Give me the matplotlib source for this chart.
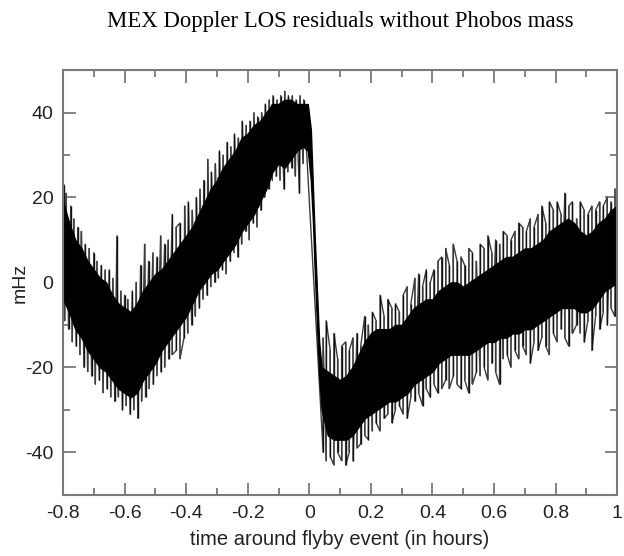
#!/usr/bin/env python
"""
Redraw of the MEX Doppler LOS residuals (no Phobos mass) around the flyby.
"""

import numpy as np
import matplotlib.pyplot as plt
from matplotlib.ticker import MultipleLocator, FormatStrFormatter

plt.rcParams['axes.unicode_minus'] = False

# core of the noisy band (hours, mHz)
band_t = [-0.80, -0.78, -0.76, -0.74, -0.72, -0.70, -0.68, -0.66, -0.64, -0.62,
          -0.60, -0.58, -0.56, -0.54, -0.52, -0.50, -0.48, -0.46, -0.44, -0.42,
          -0.40, -0.38, -0.36, -0.34, -0.32, -0.30, -0.28, -0.26, -0.24, -0.22,
          -0.20, -0.18, -0.16, -0.14, -0.12, -0.10, -0.08, -0.06, -0.04, -0.02,
          -0.005, 0.005, 0.012, 0.018, 0.025, 0.032, 0.04, 0.06, 0.08, 0.10,
          0.12, 0.14, 0.16, 0.18, 0.20, 0.22, 0.24, 0.26, 0.28, 0.30,
          0.32, 0.34, 0.36, 0.38, 0.40, 0.42, 0.44, 0.46, 0.48, 0.50,
          0.52, 0.54, 0.56, 0.58, 0.60, 0.62, 0.64, 0.66, 0.68, 0.70,
          0.72, 0.74, 0.76, 0.78, 0.80, 0.82, 0.84, 0.86, 0.88, 0.90,
          0.92, 0.94, 0.96, 0.98, 1.00]
band_hi = [19, 14, 10, 8, 5, 3, 1, 0, -3, -5,
           -6, -7, -5, -2, 0, 2, 3, 5, 7, 9,
           11, 13, 16, 19, 22, 24, 27, 29, 31, 34,
           35, 37, 38, 40, 42, 42, 43, 43, 42, 42,
           42, 36, 22, 10, -2, -14, -20, -21, -22, -23,
           -22, -20, -17, -14, -12, -11, -11, -11, -10, -10,
           -8, -6, -5, -4, -4, -2, -1, 0, 0, -1,
           0, 1, 2, 3, 4, 5, 6, 6, 7, 8,
           8, 9, 10, 12, 13, 14, 15, 14, 12, 11,
           12, 14, 15, 17, 18]
band_lo = [-4, -7, -11, -13, -16, -18, -20, -21, -23, -25,
           -26, -27, -26, -23, -21, -19, -16, -14, -12, -10,
           -8, -5, -2, 0, 2, 3, 5, 7, 9, 12,
           14, 16, 19, 22, 26, 28, 27, 29, 31, 32,
           31, 24, 14, 2, -10, -22, -30, -36, -37, -37,
           -37, -36, -34, -32, -31, -30, -29, -28, -28, -27,
           -26, -24, -23, -22, -21, -19, -18, -17, -17, -17,
           -17, -16, -15, -14, -14, -13, -13, -12, -12, -11,
           -11, -10, -9, -8, -7, -6, -6, -6, -7, -7,
           -6, -4, -2, -1, 0]

# upward noise spikes (time, peak value)
up_t = [-0.797, -0.79, -0.775, -0.765, -0.752, -0.74, -0.728, -0.715, -0.70, -0.69,
        -0.676, -0.663, -0.65, -0.638, -0.625, -0.612, -0.60, -0.59, -0.575, -0.562,
        -0.548, -0.535, -0.522, -0.508, -0.495, -0.483, -0.47, -0.458, -0.445, -0.432,
        -0.42, -0.405, -0.393, -0.38, -0.367, -0.355, -0.343, -0.33, -0.318, -0.305,
        -0.292, -0.28, -0.267, -0.255, -0.243, -0.23, -0.218, -0.205, -0.193, -0.18,
        -0.168, -0.155, -0.143, -0.13, -0.118, -0.105, -0.093, -0.08, -0.068, -0.055,
        -0.043, -0.03, -0.018,
        0.045, 0.055, 0.068, 0.08, 0.092, 0.105, 0.118, 0.13, 0.142, 0.155,
        0.167, 0.18, 0.192, 0.205, 0.217, 0.23, 0.243, 0.255, 0.268, 0.28,
        0.293, 0.305, 0.318, 0.33, 0.343, 0.355, 0.368, 0.38, 0.393, 0.405,
        0.418, 0.43, 0.443, 0.455, 0.468, 0.48, 0.493, 0.505, 0.518, 0.53,
        0.543, 0.555, 0.568, 0.58, 0.593, 0.605, 0.618, 0.63, 0.643, 0.655,
        0.668, 0.68, 0.693, 0.705, 0.718, 0.73, 0.743, 0.755, 0.768, 0.78,
        0.793, 0.805, 0.818, 0.83, 0.843, 0.855, 0.868, 0.88, 0.893, 0.905,
        0.918, 0.93, 0.943, 0.955, 0.968, 0.98, 0.993]
up_v = [23, 21, 18, 15, 13, 12, 9, 8, 7, 5,
        4, 3, 3, 1, 11, -2, -3, -4, -2, 0,
        4, 9, 5, 7, 6, 11, 9, 10, 16, 13,
        14, 18, 19, 17, 20, 22, 24, 29, 26, 28,
        31, 30, 33, 32, 35, 34, 38, 37, 38, 40,
        39, 40, 42, 43, 44, 43, 44, 45, 44, 44,
        43, 44, 43,
        -13, -9, -16, -12, -18, -15, -14, -16, -13, -12,
        -15, -8, -10, -7, -9, -3, -8, -4, -6, -5,
        -7, -3, -1, -5, 1, 2, -1, 3, 0, 3,
        5, 6, 8, 4, 9, 5, 6, 4, 8, 7,
        5, 9, 8, 11, 7, 10, 9, 12, 11, 10,
        12, 14, 13, 12, 15, 13, 16, 18, 14, 19,
        17, 19, 16, 21, 18, 19, 15, 19, 17, 16,
        18, 17, 19, 18, 20, 19, 22]

# downward noise spikes (time, trough value)
down_t = [-0.795, -0.782, -0.77, -0.757, -0.745, -0.732, -0.72, -0.707, -0.695, -0.682,
          -0.67, -0.657, -0.645, -0.632, -0.62, -0.607, -0.595, -0.582, -0.57, -0.557,
          -0.545, -0.532, -0.52, -0.507, -0.495, -0.482, -0.47, -0.457, -0.445, -0.432,
          -0.42, -0.407, -0.395, -0.382, -0.37, -0.357, -0.345, -0.332, -0.32, -0.307,
          -0.295, -0.282, -0.27, -0.257, -0.245, -0.232, -0.22, -0.207, -0.195, -0.182,
          -0.17, -0.157, -0.145, -0.132, -0.12, -0.107, -0.095, -0.082, -0.07, -0.057,
          -0.045, -0.032, -0.02,
          0.045, 0.055, 0.068, 0.08, 0.092, 0.105, 0.118, 0.13, 0.142, 0.155,
          0.167, 0.18, 0.192, 0.205, 0.217, 0.23, 0.243, 0.255, 0.268, 0.28,
          0.293, 0.305, 0.318, 0.33, 0.343, 0.355, 0.368, 0.38, 0.393, 0.405,
          0.418, 0.43, 0.443, 0.455, 0.468, 0.48, 0.493, 0.505, 0.518, 0.53,
          0.543, 0.555, 0.568, 0.58, 0.593, 0.605, 0.618, 0.63, 0.643, 0.655,
          0.668, 0.68, 0.693, 0.705, 0.718, 0.73, 0.743, 0.755, 0.768, 0.78,
          0.793, 0.805, 0.818, 0.83, 0.843, 0.855, 0.868, 0.88, 0.893, 0.905,
          0.918, 0.93, 0.943, 0.955, 0.968, 0.98, 0.993]
down_v = [-9, -11, -14, -15, -17, -20, -21, -22, -24, -23,
          -26, -25, -27, -28, -27, -30, -29, -31, -30, -32,
          -28, -27, -25, -24, -22, -21, -20, -18, -17, -16,
          -18, -13, -12, -10, -8, -6, -4, -3, -1, 0,
          1, 3, 2, 5, 7, 6, 9, 12, 10, 14,
          13, 17, 20, 22, 24, 25, 24, 22, 26, 27,
          25, 21, 28,
          -40, -42, -41, -43, -40, -42, -43, -40, -42, -39,
          -38, -36, -37, -35, -33, -35, -32, -31, -33, -30,
          -29, -31, -32, -27, -28, -26, -29, -25, -27, -24,
          -26, -25, -23, -25, -22, -24, -25, -23, -26, -24,
          -21, -22, -20, -23, -19, -21, -24, -18, -17, -20,
          -16, -18, -15, -17, -19, -14, -16, -13, -15, -17,
          -12, -14, -11, -13, -15, -12, -10, -12, -14, -9,
          -16, -8, -11, -7, -10, -6, -8]

x_ticks = [-0.8, -0.6, -0.4, -0.2, 0, 0.2, 0.4, 0.6, 0.8, 1]
y_ticks = [-40, -20, 0, 20, 40]

axis_grey = '#7a7a7a'

fig = plt.figure(figsize=(6.24, 5.56), dpi=100)
ax = fig.add_axes([0.101, 0.110, 0.888, 0.764])

# noise: one trace swinging between the read-off peaks and troughs
all_t = np.concatenate([up_t, down_t])
all_v = np.concatenate([up_v, down_v])
order = np.argsort(all_t)
ax.plot(all_t[order], all_v[order], color='#3c3c3c', lw=1.0, zorder=2)

# extra strokes hanging off the band, lighter like the thin traces in the original
up_t_a = np.array(up_t)
down_t_a = np.array(down_t)
up_base = np.interp(up_t_a, band_t, band_lo)
down_base = np.interp(down_t_a, band_t, band_hi)
ax.vlines(up_t_a[1::2], up_base[1::2], np.array(up_v)[1::2], color='#858585', lw=1.3, zorder=1.5)
ax.vlines(down_t_a[::2], np.array(down_v)[::2], down_base[::2], color='#858585', lw=1.3, zorder=1.5)
ax.vlines(up_t_a[::2], up_base[::2], np.array(up_v)[::2], color='#111111', lw=1.0, zorder=3)
ax.vlines(down_t_a[1::2], np.array(down_v)[1::2], down_base[1::2], color='#111111', lw=1.0, zorder=3)

# dense core of the trace
ax.fill_between(band_t, band_lo, band_hi, color='black', lw=1.0, edgecolor='black', zorder=4)

ax.set_xlim(-0.8, 1.0)
ax.set_ylim(-50, 50)
ax.set_xticks(x_ticks)
ax.set_yticks(y_ticks)
ax.xaxis.set_minor_locator(MultipleLocator(0.1))
ax.yaxis.set_minor_locator(MultipleLocator(10))
ax.xaxis.set_major_formatter(FormatStrFormatter('%g'))

for side in ax.spines.values():
    side.set_color(axis_grey)
    side.set_linewidth(1.5)
    side.set_zorder(5)
ax.tick_params(which='both', direction='in', top=True, right=True,
               color=axis_grey, width=1.3, labelcolor='#222222', labelsize=14)
ax.tick_params(which='major', length=9, pad=7)
ax.tick_params(which='minor', length=5)

ax.set_xlabel('time around flyby event (in hours)', fontsize=14.5,
              family='Liberation Sans', color='#222222', labelpad=6)
ax.set_ylabel('mHz', fontsize=14, family='Liberation Sans', color='#222222', labelpad=-3)
for lab in ax.get_xticklabels() + ax.get_yticklabels():
    lab.set_family('Liberation Sans')

fig.text(0.545, 0.962, 'MEX Doppler LOS residuals without Phobos mass',
         ha='center', va='center', fontsize=16.4, family='Liberation Serif')

fig.savefig('out.png', dpi=100)
